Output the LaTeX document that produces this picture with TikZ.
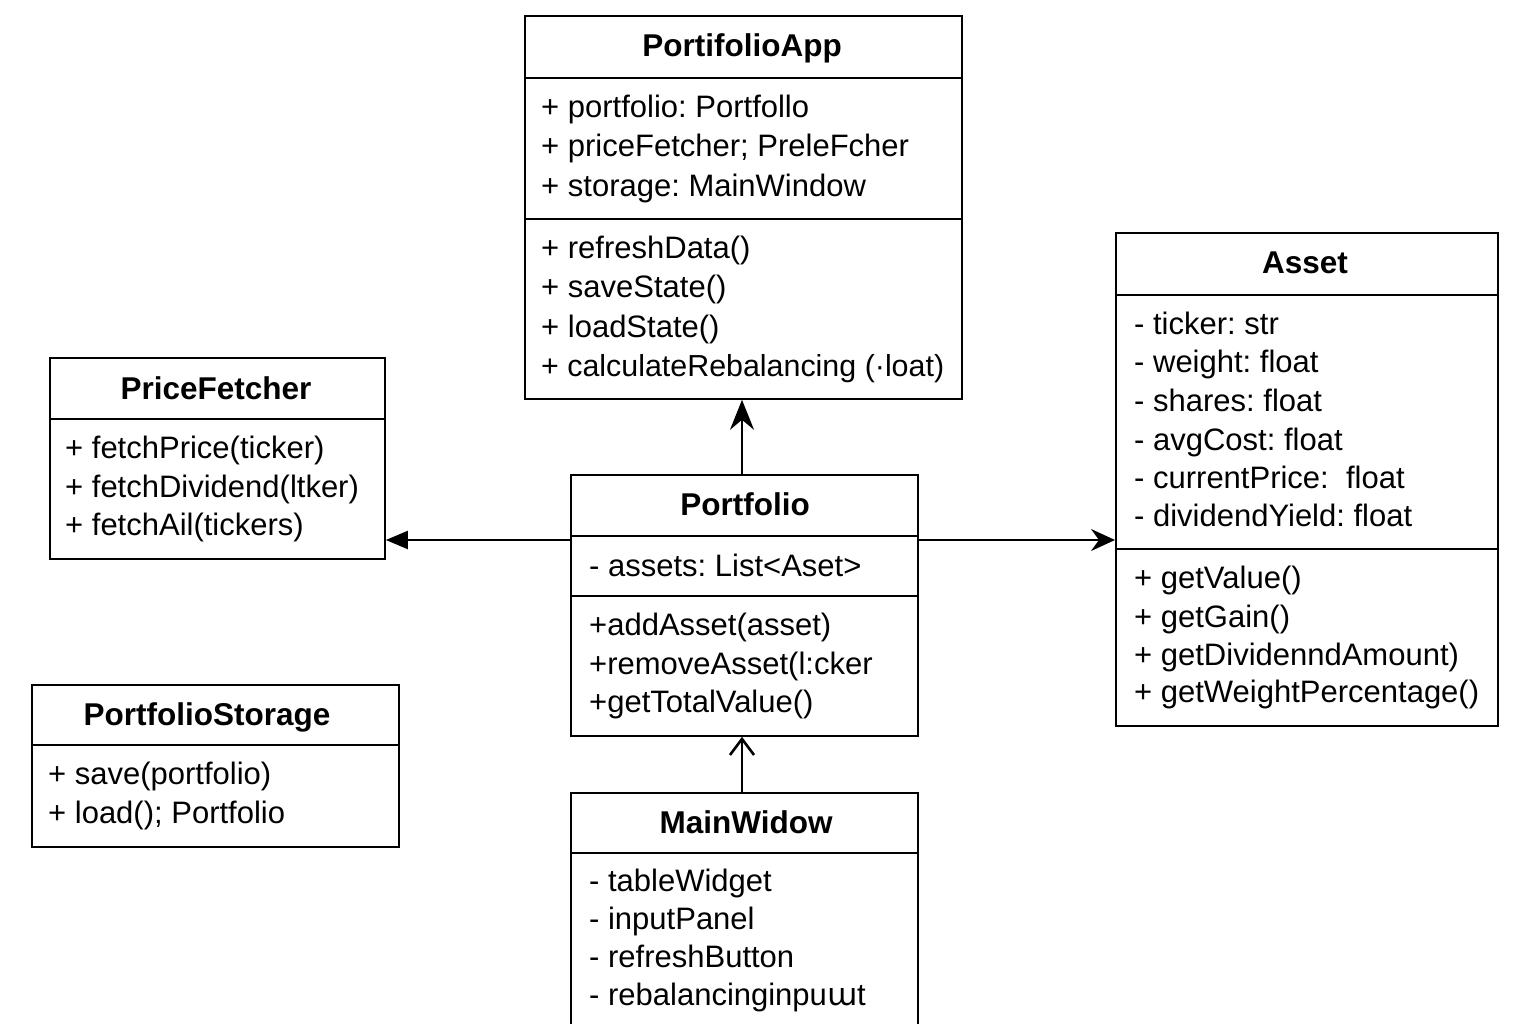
\documentclass[tikz,border=0pt]{standalone}
\usepackage{fontspec}
\setmainfont{Liberation Sans}
\newfontfamily\ipafont{DejaVu Sans}
\usetikzlibrary{arrows.meta}
\tikzset{
  classbox/.style 2 args={draw, line width=1.8pt, inner sep=0pt, anchor=north west,
    minimum width=#1pt, minimum height=#2pt},
  divider/.style={line width=1.8pt},
  txt/.style={anchor=base west, inner sep=0pt, font=\fontsize{31}{36}\selectfont},
  ttl/.style={anchor=base, inner sep=0pt, font=\fontsize{31.5}{36}\selectfont\bfseries},
  conn/.style={line width=2pt},
}
\begin{document}
\frenchspacing
\begin{tikzpicture}[x=1pt,y=-1pt]
\clip (0,0) rectangle (1536,1024);
\fill[white] (0,0) rectangle (1536,1024);

% ---------- PortifolioApp ----------
\node[classbox={437}{383}] (app) at (524,15) {};
\draw[divider] (524,78) -- (961,78);
\draw[divider] (524,219) -- (961,219);
\node[ttl] (appT) at (742,57) {PortifolioApp};
\node[txt] (appA1) at (541,118) {+ portfolio: Portfollo};
\node[txt] (appA2) at (541,157) {+ priceFetcher; PreleFcher};
\node[txt] (appA3) at (541,197) {+ storage: MainWindow};
\node[txt] (appM1) at (541,259) {+ refreshData()};
\node[txt] (appM2) at (541,298) {+ saveState()};
\node[txt] (appM3) at (541,337) {+ loadState()};
\node[txt, font=\fontsize{30.4}{36}\selectfont] (appM4) at (541,376) {+ calculateRebalancing (·loat)};

% ---------- PriceFetcher ----------
\node[classbox={335}{201}] (pf) at (49,357) {};
\draw[divider] (49,419) -- (384,419);
\node[ttl] (pfT) at (216,399) {PriceFetcher};
\node[txt] (pfM1) at (65,458) {+ fetchPrice(ticker)};
\node[txt] (pfM2) at (65,497) {+ fetchDividend(ltker)};
\node[txt] (pfM3) at (65,535) {+ fetchAil(tickers)};

% ---------- Portfolio ----------
\node[classbox={347}{261}] (port) at (570,474) {};
\draw[divider] (570,536) -- (917,536);
\draw[divider] (570,596) -- (917,596);
\node[ttl] (portT) at (745,515) {Portfolio};
\node[txt] (portA1) at (589,576) {- assets: List<Aset>};
\node[txt] (portM1) at (589,635) {+addAsset(asset)};
\node[txt] (portM2) at (589,674) {+removeAsset(l:cker};
\node[txt] (portM3) at (589,712) {+getTotalValue()};

% ---------- Asset ----------
\node[classbox={382}{493}] (asset) at (1115,232) {};
\draw[divider] (1115,295) -- (1497,295);
\draw[divider] (1115,549) -- (1497,549);
\node[ttl] (assetT) at (1305,274) {Asset};
\node[txt] (asA1) at (1134,334) {- ticker: str};
\node[txt] (asA2) at (1134,372) {- weight: float};
\node[txt] (asA3) at (1134,411) {- shares: float};
\node[txt] (asA4) at (1134,450) {- avgCost: float};
\node[txt] (asA5) at (1134,488) {- currentPrice:\ \ float};
\node[txt] (asA6) at (1134,526) {- dividendYield: float};
\node[txt] (asM1) at (1134,588) {+ getValue()};
\node[txt] (asM2) at (1134,627) {+ getGain()};
\node[txt] (asM3) at (1134,665) {+ getDividenndAmount)};
\node[txt] (asM4) at (1134,702) {+ getWeightPercentage()};

% ---------- PortfolioStorage ----------
\node[classbox={367}{162}] (ps) at (31,684) {};
\draw[divider] (31,745) -- (398,745);
\node[ttl] (psT) at (207,725) {PortfolioStorage};
\node[txt] (psM1) at (48,784) {+ save(portfolio)};
\node[txt] (psM2) at (48,823) {+ load(); Portfolio};

% ---------- MainWidow ----------
\node[classbox={347}{260}] (mw) at (570,792) {};
\draw[divider] (570,853) -- (917,853);
\node[ttl] (mwT) at (746,833) {MainWidow};
\node[txt] (mwA1) at (589,891) {- tableWidget};
\node[txt] (mwA2) at (589,929) {- inputPanel};
\node[txt] (mwA3) at (589,967) {- refreshButton};
\node[txt] (mwA4) at (589,1005) {- rebalancinginpu{\ipafont ɯ}t};

% ---------- connectors ----------
\draw[conn, -{Stealth[length=30pt,width=24pt,inset=10pt]}] (port.north -| appT) -- (app.south -| appT);
\draw[conn, -{Triangle[length=22pt,width=18pt]}] (port.west |- {(0,540)}) -- (pf.east |- {(0,540)});
\draw[conn, -{Stealth[length=24pt,width=22pt,inset=8pt]}] (port.east |- {(0,540)}) -- (asset.west |- {(0,540)});
\draw[conn, -{Straight Barb[length=16pt,width=24pt,line width=2.6pt]}] (mw.north -| appT) -- (port.south -| appT);
\end{tikzpicture}
\end{document}
